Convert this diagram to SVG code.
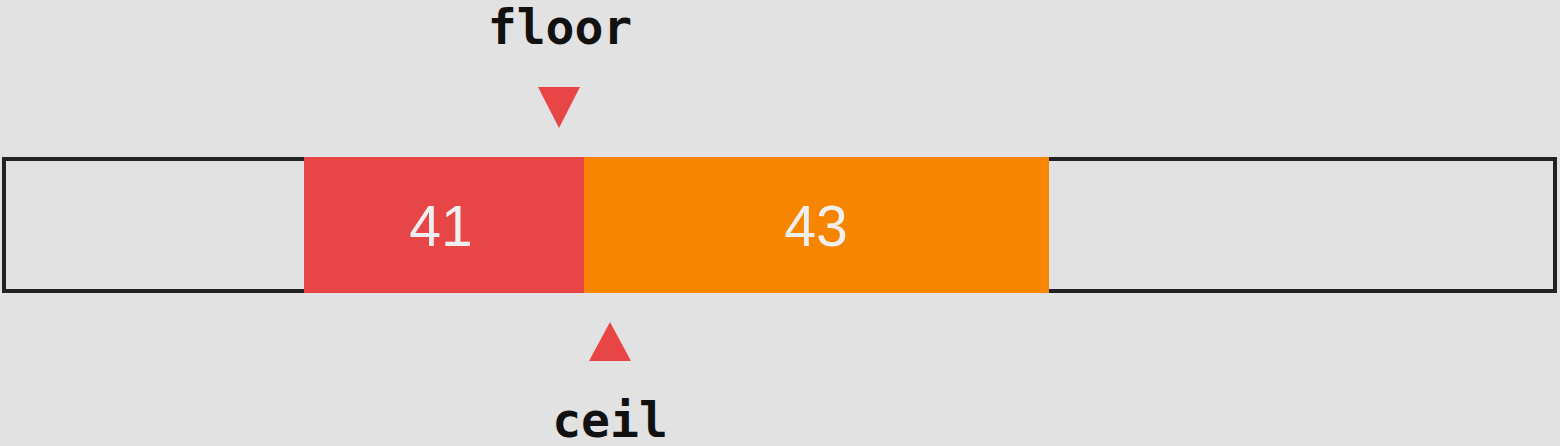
<svg xmlns="http://www.w3.org/2000/svg" width="1560" height="446" viewBox="0 0 1560 446">
<style>
.lbl{font-family:"DejaVu Sans Mono","Liberation Mono",monospace;font-weight:bold;font-size:48px;fill:#111;text-anchor:middle}
.val{font-family:"Liberation Sans",Arial,sans-serif;font-size:57px;fill:#efefef;text-anchor:middle}
.ptr{fill:#e84646}
</style>
<rect x="0" y="0" width="1560" height="446" fill="#e2e2e2"/>
<g id="array">
<rect x="4" y="159" width="1551" height="132" fill="#e2e2e2" stroke="#222" stroke-width="4"/>
</g>
<g id="cell41">
<rect x="304" y="157" width="280" height="136" fill="#e84646"/>
<text class="val" x="441" y="246">41</text>
</g>
<g id="cell43">
<rect x="584" y="157" width="465" height="136" fill="#f78500"/>
<text class="val" x="816" y="246">43</text>
</g>
<g id="floor">
<text class="lbl" x="560" y="44">floor</text>
<polygon class="ptr" points="538,87 580,87 559,128"/>
</g>
<g id="ceil">
<polygon class="ptr" points="610,322 631,361 589,361"/>
<text class="lbl" x="610" y="437">ceil</text>
</g>
<g id="connectors"></g>
</svg>
